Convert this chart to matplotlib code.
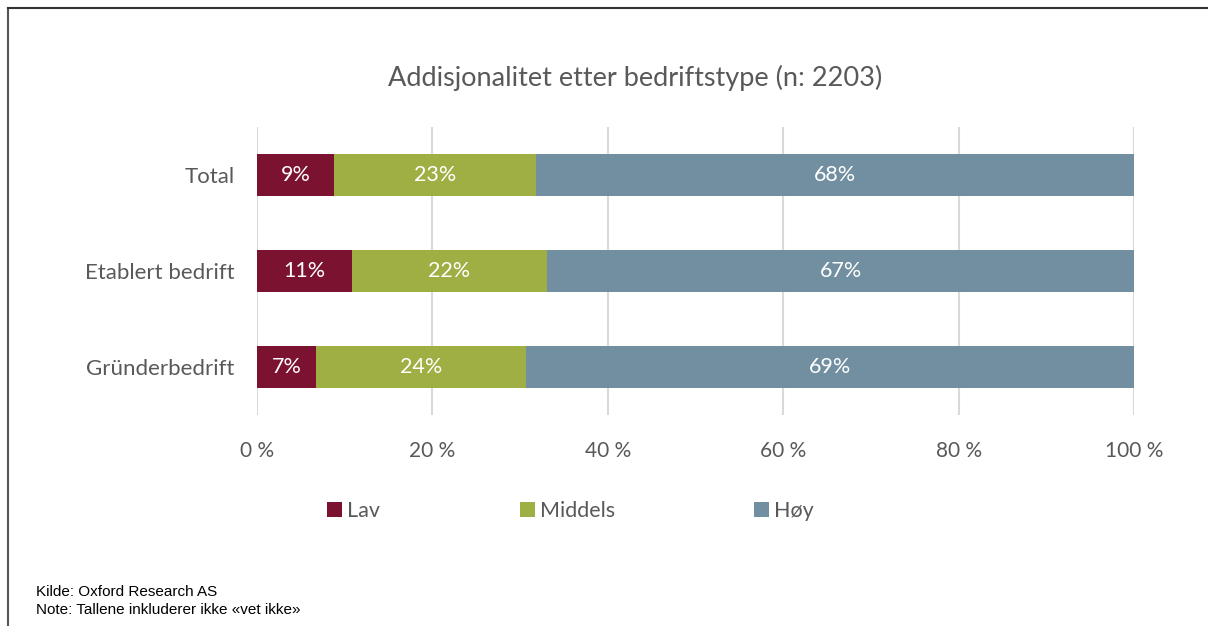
import matplotlib
matplotlib.use("Agg")
import matplotlib.pyplot as plt
from matplotlib.lines import Line2D
import numpy as np

categories = ["Total", "Etablert bedrift", "Gründerbedrift"]
series_names = ["Lav", "Middels", "Høy"]
lav = [8.8, 10.8, 6.7]
middels = [23.0, 22.3, 24.0]
hoy = [68.2, 66.9, 69.3]
labels_lav = ["9%", "11%", "7%"]
labels_middels = ["23%", "22%", "24%"]
labels_hoy = ["68%", "67%", "69%"]
xticks = [0, 20, 40, 60, 80, 100]
xticklabels = ["0 %", "20 %", "40 %", "60 %", "80 %", "100 %"]
title = "Addisjonalitet etter bedriftstype (n: 2203)"
footer = ["Kilde: Oxford Research AS", "Note: Tallene inkluderer ikke «vet ikke»"]

colors = ["#7B1230", "#9FAF43", "#728FA1"]
txt = "#595959"
FONT = ["Lato", "DejaVu Sans"]
plt.rcParams["font.family"] = FONT

W, H = 1208, 626
fig = plt.figure(figsize=(W / 100, H / 100), dpi=100)
ax = fig.add_axes([257 / W, 1 - 415 / H, (1134 - 257) / W, (415 - 127) / H])

y = np.arange(len(categories))
series = [lav, middels, hoy]
lbls = [labels_lav, labels_middels, labels_hoy]
left = np.zeros(len(categories))
handles = []
for vals, lab, c, name in zip(series, lbls, colors, series_names):
    vals = np.array(vals)
    bars = ax.barh(y, vals, left=left, height=0.43, color=c, zorder=3, label=name)
    handles.append(bars)
    ax.bar_label(bars, labels=lab, label_type="center", color="white", fontsize=15.5)
    left = left + vals

ax.set_xlim(0, 100)
ax.set_ylim(2.5, -0.5)
ax.set_yticks(y)
ax.set_yticklabels(categories, fontsize=16, color=txt)
ax.set_xticks(xticks)
ax.set_xticklabels(xticklabels, fontsize=15, color=txt)
ax.tick_params(axis="both", length=0)
ax.tick_params(axis="y", pad=16)
ax.tick_params(axis="x", pad=19)
ax.grid(axis="x", color="#D9D9D9", linewidth=1.5, zorder=0)
for s in ax.spines.values():
    s.set_visible(False)

fig.text(635 / W, 1 - 78 / H, title, ha="center", va="center", fontsize=19.5, color=txt)

leg_x = [327, 520, 754]
for h, name, lx in zip(handles, series_names, leg_x):
    leg = fig.legend(handles=[h], labels=[name], loc="center left",
                     bbox_to_anchor=(lx / W, 1 - 511 / H), frameon=False,
                     fontsize=15.5, handlelength=0.7, handleheight=0.7,
                     handletextpad=0.25, borderaxespad=0, borderpad=0)
    for t in leg.get_texts():
        t.set_color(txt)

fig.text(36 / W, 1 - 592 / H, footer[0], ha="left", va="center", fontsize=11,
         color="black", family=["Liberation Sans", "DejaVu Sans"])
fig.text(36 / W, 1 - 610 / H, footer[1], ha="left", va="center", fontsize=11,
         color="black", family=["Liberation Sans", "DejaVu Sans"])

fig.add_artist(Line2D([8 / W, 8 / W], [0, 1 - 8 / H], transform=fig.transFigure, color="#555555", linewidth=1.5))
fig.add_artist(Line2D([8 / W, 1], [1 - 8 / H, 1 - 8 / H], transform=fig.transFigure, color="#333333", linewidth=1.5))

fig.savefig("out.png", dpi=100)
